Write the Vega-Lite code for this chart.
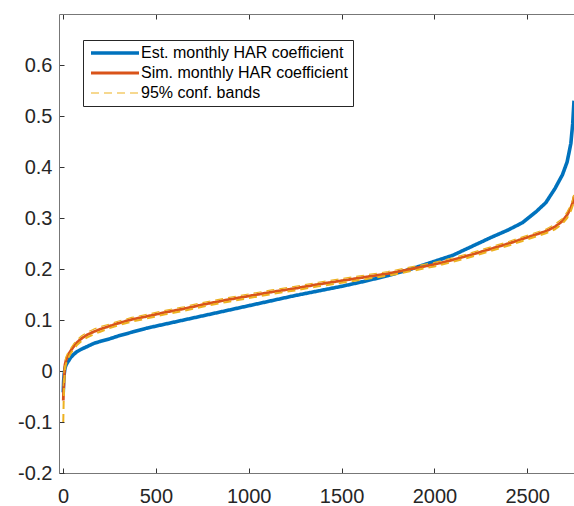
{
  "$schema": "https://vega.github.io/schema/vega-lite/v6.json",
  "width": 515,
  "height": 459,
  "autosize": {"type": "none"},
  "padding": {"left": 59, "top": 14, "right": 0, "bottom": 33},
  "background": "white",
  "config": {"view": {"stroke": null}, "font": "Liberation Sans"},
  "data": {"values": [
    {"i": 1, "est": -0.042, "sim": -0.058, "lo": -0.100, "hi": -0.030},
    {"i": 3, "est": -0.020, "sim": -0.035, "lo": -0.062, "hi": -0.015},
    {"i": 6, "est": -0.006, "sim": -0.010, "lo": -0.024, "hi": 0.002},
    {"i": 10, "est": 0.005, "sim": 0.012, "lo": 0.003, "hi": 0.019},
    {"i": 15, "est": 0.011, "sim": 0.020, "lo": 0.013, "hi": 0.027},
    {"i": 22, "est": 0.016, "sim": 0.027, "lo": 0.021, "hi": 0.033},
    {"i": 30, "est": 0.020, "sim": 0.033, "lo": 0.027, "hi": 0.039},
    {"i": 40, "est": 0.026, "sim": 0.039, "lo": 0.034, "hi": 0.044},
    {"i": 55, "est": 0.032, "sim": 0.047, "lo": 0.042, "hi": 0.052},
    {"i": 75, "est": 0.038, "sim": 0.056, "lo": 0.051, "hi": 0.061},
    {"i": 100, "est": 0.043, "sim": 0.064, "lo": 0.059, "hi": 0.069},
    {"i": 130, "est": 0.048, "sim": 0.071, "lo": 0.066, "hi": 0.076},
    {"i": 165, "est": 0.054, "sim": 0.077, "lo": 0.072, "hi": 0.082},
    {"i": 200, "est": 0.058, "sim": 0.082, "lo": 0.077, "hi": 0.087},
    {"i": 250, "est": 0.063, "sim": 0.088, "lo": 0.084, "hi": 0.092},
    {"i": 300, "est": 0.069, "sim": 0.094, "lo": 0.090, "hi": 0.098},
    {"i": 370, "est": 0.076, "sim": 0.101, "lo": 0.097, "hi": 0.105},
    {"i": 450, "est": 0.084, "sim": 0.107, "lo": 0.103, "hi": 0.111},
    {"i": 550, "est": 0.092, "sim": 0.115, "lo": 0.111, "hi": 0.119},
    {"i": 650, "est": 0.100, "sim": 0.122, "lo": 0.118, "hi": 0.126},
    {"i": 750, "est": 0.108, "sim": 0.130, "lo": 0.126, "hi": 0.134},
    {"i": 875, "est": 0.118, "sim": 0.139, "lo": 0.135, "hi": 0.143},
    {"i": 1000, "est": 0.128, "sim": 0.147, "lo": 0.143, "hi": 0.151},
    {"i": 1125, "est": 0.138, "sim": 0.155, "lo": 0.151, "hi": 0.159},
    {"i": 1250, "est": 0.148, "sim": 0.162, "lo": 0.158, "hi": 0.166},
    {"i": 1375, "est": 0.157, "sim": 0.170, "lo": 0.166, "hi": 0.174},
    {"i": 1500, "est": 0.166, "sim": 0.177, "lo": 0.173, "hi": 0.181},
    {"i": 1625, "est": 0.176, "sim": 0.184, "lo": 0.180, "hi": 0.188},
    {"i": 1750, "est": 0.187, "sim": 0.191, "lo": 0.187, "hi": 0.195},
    {"i": 1875, "est": 0.200, "sim": 0.200, "lo": 0.196, "hi": 0.204},
    {"i": 2000, "est": 0.215, "sim": 0.209, "lo": 0.205, "hi": 0.213},
    {"i": 2100, "est": 0.227, "sim": 0.218, "lo": 0.214, "hi": 0.222},
    {"i": 2200, "est": 0.244, "sim": 0.228, "lo": 0.224, "hi": 0.232},
    {"i": 2300, "est": 0.261, "sim": 0.239, "lo": 0.235, "hi": 0.243},
    {"i": 2400, "est": 0.277, "sim": 0.250, "lo": 0.246, "hi": 0.254},
    {"i": 2475, "est": 0.291, "sim": 0.259, "lo": 0.255, "hi": 0.263},
    {"i": 2550, "est": 0.313, "sim": 0.268, "lo": 0.264, "hi": 0.272},
    {"i": 2600, "est": 0.330, "sim": 0.274, "lo": 0.270, "hi": 0.278},
    {"i": 2650, "est": 0.358, "sim": 0.283, "lo": 0.278, "hi": 0.288},
    {"i": 2690, "est": 0.385, "sim": 0.294, "lo": 0.289, "hi": 0.299},
    {"i": 2715, "est": 0.410, "sim": 0.306, "lo": 0.300, "hi": 0.312},
    {"i": 2735, "est": 0.446, "sim": 0.320, "lo": 0.314, "hi": 0.326},
    {"i": 2745, "est": 0.485, "sim": 0.330, "lo": 0.324, "hi": 0.336},
    {"i": 2752, "est": 0.530, "sim": 0.342, "lo": 0.335, "hi": 0.349}
  ]},
  "transform": [{"fold": ["est", "sim", "lo", "hi"], "as": ["key", "value"]}],
  "layer": [
    {
      "mark": {"type": "line", "clip": true, "strokeCap": "butt", "strokeJoin": "round"},
      "encoding": {
        "x": {
          "field": "i", "type": "quantitative",
          "scale": {"domain": [-22, 2752], "nice": false, "zero": false},
          "axis": {
            "orient": "bottom", "values": [0, 500, 1000, 1500, 2000, 2500], "title": null, "format": "d",
            "grid": false, "domainColor": "#777", "tickColor": "#333", "tickSize": -5,
            "labelFontSize": 20, "labelColor": "#262626", "labelPadding": 18, "labelFont": "Liberation Sans"
          }
        },
        "y": {
          "field": "value", "type": "quantitative",
          "scale": {"domain": [-0.2, 0.7], "nice": false, "zero": false},
          "axis": {
            "orient": "left", "values": [-0.2, -0.1, 0, 0.1, 0.2, 0.3, 0.4, 0.5, 0.6], "title": null,
            "grid": false, "domainColor": "#777", "tickColor": "#333", "tickSize": -5,
            "labelFontSize": 20, "labelColor": "#262626", "labelPadding": 12, "labelFont": "Liberation Sans",
            "labelExpr": "'' + round(datum.value * 10) / 10"
          }
        },
        "color": {
          "field": "key", "type": "nominal",
          "scale": {"domain": ["est", "sim", "lo", "hi"], "range": ["#0072BD", "#D95319", "#EDB120", "#EDB120"]},
          "legend": {
            "orient": "none", "legendX": 24, "legendY": 26, "title": null,
            "values": ["est", "sim", "hi"],
            "labelExpr": "datum.label == 'est' ? 'Est. monthly HAR coefficient' : datum.label == 'sim' ? 'Sim. monthly HAR coefficient' : '95% conf. bands'",
            "symbolType": "M-1,0L8.6,0", "symbolSize": 100, "labelOffset": 37,
            "labelFontSize": 16, "labelColor": "#000", "labelFont": "Liberation Sans",
            "strokeColor": "#262626", "fillColor": "white", "padding": 5, "rowPadding": 4,
            "labelLimit": 400,
            "encode": {"symbols": {"update": {"strokeWidth": {"signal": "datum.value == 'est' ? 3.2 : 1.0"}}}}
          }
        },
        "strokeDash": {
          "field": "key", "type": "nominal",
          "scale": {"domain": ["est", "sim", "lo", "hi"], "range": [[1, 0], [1, 0], [8, 5], [8, 5]]},
          "legend": {
            "orient": "none", "legendX": 24, "legendY": 26, "title": null,
            "values": ["est", "sim", "hi"],
            "labelExpr": "datum.label == 'est' ? 'Est. monthly HAR coefficient' : datum.label == 'sim' ? 'Sim. monthly HAR coefficient' : '95% conf. bands'",
            "symbolType": "M-1,0L8.6,0", "symbolSize": 100, "labelOffset": 37,
            "labelFontSize": 16, "labelColor": "#000", "labelFont": "Liberation Sans",
            "strokeColor": "#262626", "fillColor": "white", "padding": 5, "rowPadding": 4,
            "labelLimit": 400,
            "encode": {"symbols": {"update": {"strokeWidth": {"signal": "datum.value == 'est' ? 3.2 : 1.0"}}}}
          }
        },
        "strokeWidth": {
          "field": "key", "type": "nominal",
          "scale": {"domain": ["est", "sim", "lo", "hi"], "range": [3.6, 1.2, 1.3, 1.3]},
          "legend": {
            "orient": "none", "legendX": 24, "legendY": 26, "title": null,
            "values": ["est", "sim", "hi"],
            "labelExpr": "datum.label == 'est' ? 'Est. monthly HAR coefficient' : datum.label == 'sim' ? 'Sim. monthly HAR coefficient' : '95% conf. bands'",
            "symbolType": "M-1,0L8.6,0", "symbolSize": 100, "labelOffset": 37,
            "labelFontSize": 16, "labelColor": "#000", "labelFont": "Liberation Sans",
            "strokeColor": "#262626", "fillColor": "white", "padding": 5, "rowPadding": 4,
            "labelLimit": 400,
            "encode": {"symbols": {"update": {"strokeWidth": {"signal": "datum.value == 'est' ? 3.2 : 1.0"}}}}
          }
        }
      }
    },
    {
      "mark": {"type": "rule", "opacity": 0},
      "encoding": {
        "x": {
          "field": "i", "type": "quantitative",
          "axis": {
            "orient": "top", "values": [0, 500, 1000, 1500, 2000, 2500], "title": null,
            "labels": false, "grid": false, "domainColor": "#777", "tickColor": "#333", "tickSize": -5
          }
        }
      }
    }
  ]
}
